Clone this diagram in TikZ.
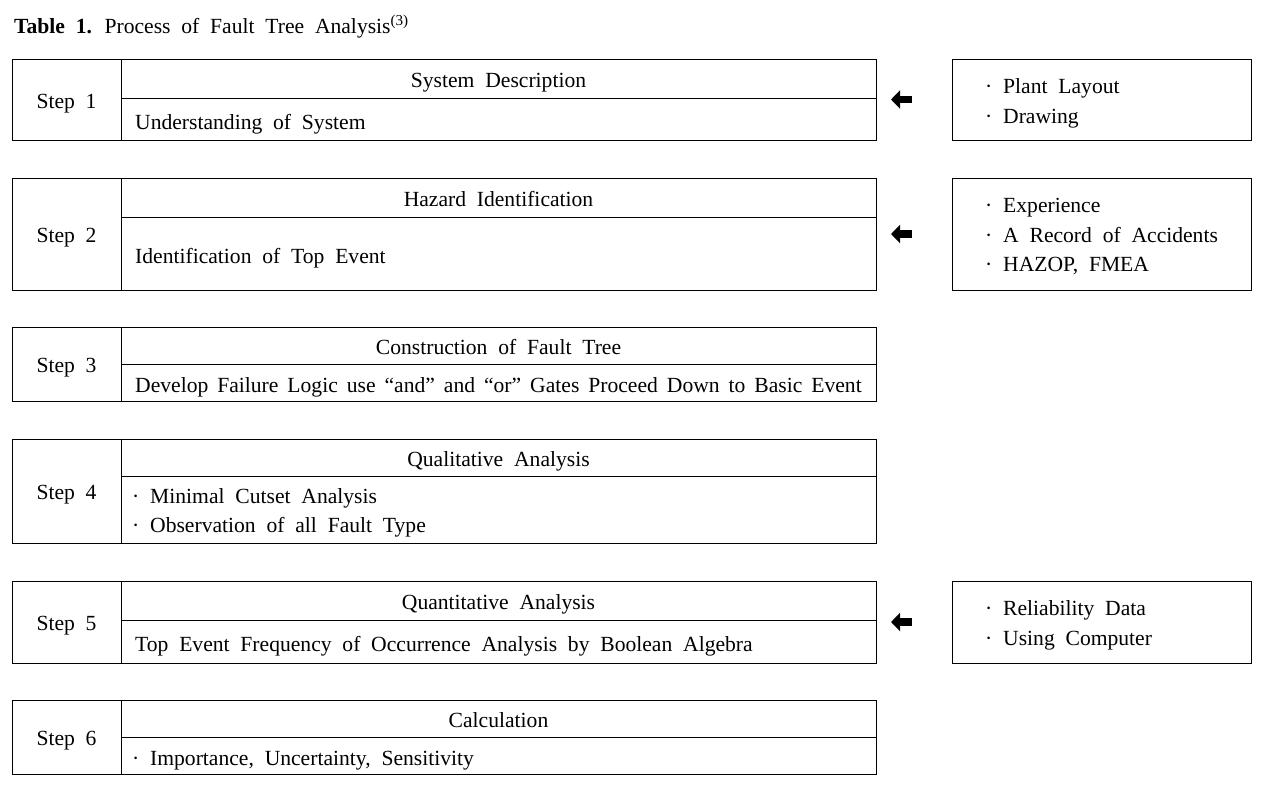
\documentclass[tikz,border=0pt]{standalone}
\usepackage{fontspec}
\setmainfont{Liberation Serif}[WordSpace={2}]
\usetikzlibrary{arrows.meta}
\begin{document}
\begin{tikzpicture}[x=1pt,y=-1pt,
  every node/.style={font=\fontsize{21.6}{29.5}\selectfont},
  box/.style={draw, line width=0.9pt, inner sep=0pt, anchor=center},
  cell/.style={box, minimum width=109},
  head/.style={box, minimum width=755},
  side/.style={box, minimum width=299},
  ctxt/.style={anchor=base, inner sep=0pt},
  ltxt/.style={anchor=base west, inner sep=0pt},
  fatarrow/.style={line width=7.5pt, -{Triangle[length=9pt,width=18pt]}, shorten <=40pt, shorten >=15pt}
]
\useasboundingbox (0,0) rectangle (1265,787);

\node[ltxt] (title) at (14,33.3) {\textbf{Table 1.} Process of Fault Tree Analysis\textsuperscript{(3)}};

% Step 1
\node[cell, minimum height=81] (s1) at (66.5,99.5) {};
\node[head, minimum height=39] (h1) at (498.5,78.5) {};
\node[head, minimum height=42] (b1) at (498.5,119) {};
\node[side, minimum height=81] (r1) at (1101.5,99.5) {};
\node[ctxt] (s1t) at (66.5,108) {Step 1};
\node[ctxt] (h1t) at (498.5,87) {System Description};
\node[ltxt] (b1t) at (135,129.3) {Understanding of System};
\node[ltxt] (r1a) at (985,93.3) {· Plant Layout};
\node[ltxt] (r1b) at (985,123.3) {· Drawing};
\coordinate (e1) at (876,99.5);
\draw[fatarrow] (r1.west) -- (e1);

% Step 2
\node[cell, minimum height=112] (s2) at (66.5,234) {};
\node[head, minimum height=39] (h2) at (498.5,197.5) {};
\node[head, minimum height=73] (b2) at (498.5,253.5) {};
\node[side, minimum height=112] (r2) at (1101.5,234) {};
\node[ctxt] (s2t) at (66.5,242.5) {Step 2};
\node[ctxt] (h2t) at (498.5,206) {Hazard Identification};
\node[ltxt] (b2t) at (135,263.5) {Identification of Top Event};
\node[ltxt] (r2a) at (985,212) {· Experience};
\node[ltxt] (r2b) at (985,242) {· A Record of Accidents};
\node[ltxt] (r2c) at (985,271.5) {· HAZOP, FMEA};
\coordinate (e2) at (876,234);
\draw[fatarrow] (r2.west) -- (e2);

% Step 3
\node[cell, minimum height=74] (s3) at (66.5,364) {};
\node[head, minimum height=37] (h3) at (498.5,345.5) {};
\node[head, minimum height=37] (b3) at (498.5,382.5) {};
\node[ctxt] (s3t) at (66.5,372.5) {Step 3};
\node[ctxt] (h3t) at (498.5,354) {Construction of Fault Tree};
\node[ltxt] (b3t) at (135,392) {\spaceskip=0.415em\relax Develop Failure Logic use “and” and “or” Gates Proceed Down to Basic Event};

% Step 4
\node[cell, minimum height=104] (s4) at (66.5,491) {};
\node[head, minimum height=37] (h4) at (498.5,457.5) {};
\node[head, minimum height=67] (b4) at (498.5,509.5) {};
\node[ctxt] (s4t) at (66.5,499.5) {Step 4};
\node[ctxt] (h4t) at (498.5,466) {Qualitative Analysis};
\node[ltxt] (b4a) at (132,503.3) {· Minimal Cutset Analysis};
\node[ltxt] (b4b) at (132,532) {· Observation of all Fault Type};

% Step 5
\node[cell, minimum height=82] (s5) at (66.5,622) {};
\node[head, minimum height=39] (h5) at (498.5,600.5) {};
\node[head, minimum height=43] (b5) at (498.5,641.5) {};
\node[side, minimum height=82] (r5) at (1101.5,622) {};
\node[ctxt] (s5t) at (66.5,630.5) {Step 5};
\node[ctxt] (h5t) at (498.5,609) {Quantitative Analysis};
\node[ltxt] (b5t) at (135,651.5) {Top Event Frequency of Occurrence Analysis by Boolean Algebra};
\node[ltxt] (r5a) at (985,615.8) {· Reliability Data};
\node[ltxt] (r5b) at (985,645.8) {· Using Computer};
\coordinate (e5) at (876,622);
\draw[fatarrow] (r5.west) -- (e5);

% Step 6
\node[cell, minimum height=74] (s6) at (66.5,737) {};
\node[head, minimum height=37] (h6) at (498.5,718.5) {};
\node[head, minimum height=37] (b6) at (498.5,755.5) {};
\node[ctxt] (s6t) at (66.5,745.5) {Step 6};
\node[ctxt] (h6t) at (498.5,727) {Calculation};
\node[ltxt] (b6t) at (132,765) {· Importance, Uncertainty, Sensitivity};
\end{tikzpicture}
\end{document}
